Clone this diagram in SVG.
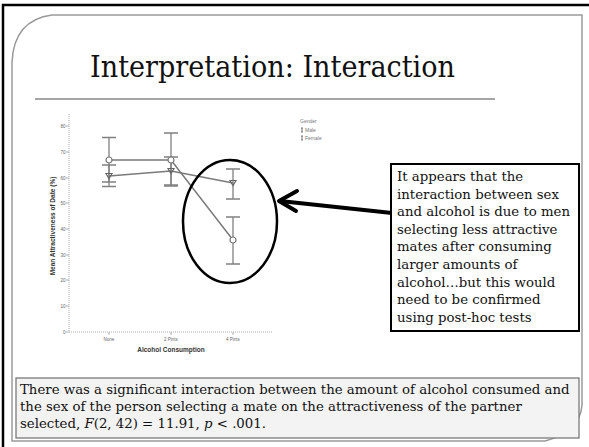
<svg xmlns="http://www.w3.org/2000/svg" width="589" height="447" viewBox="0 0 589 447">
<style>
.frame{fill:none;stroke:#9a9a9a;stroke-width:1.5}
.ser{font-family:"DejaVu Serif","Liberation Serif",serif;fill:#111}
.tick{font-family:"Liberation Sans",Arial,sans-serif;font-size:4.5px;fill:#666}
.axl{font-family:"Liberation Sans",Arial,sans-serif;font-size:6.5px;font-weight:bold;fill:#333}
.dl{fill:none;stroke:#7a7a7a;stroke-width:1.5}
.eb{fill:none;stroke:#808080;stroke-width:1.3}
.ax{fill:none;stroke:#aaa;stroke-width:1;stroke-dasharray:1 1}
</style>
<defs>
<path id="tri" d="M-3,-2.5 L3,-2.5 L0,2.5 Z" fill="none" stroke="#666" stroke-width="1.2"/>
<circle id="cir" r="3" fill="#fff" stroke="#777" stroke-width="1.2"/>
</defs>
<rect width="589" height="447" fill="#fff"/>
<path d="M3,447 L3,5 L589,5" fill="none" stroke="#000" stroke-width="2.5"/>
<path class="frame" d="M52,15 L582,15 L582,405 Q580,432 545,441 L12,441 L12,62 Q14,20 52,15 Z"/>
<g id="title">
<text class="ser" x="272.5" y="77" font-size="29" text-anchor="middle" textLength="365" lengthAdjust="spacingAndGlyphs">Interpretation: Interaction</text>
<line x1="35" y1="99" x2="495" y2="99" stroke="#888" stroke-width="1.5"/>
</g>
<g id="chart">
<line class="ax" x1="69" y1="114" x2="69" y2="332"/>
<line class="ax" x1="69" y1="332" x2="273" y2="332"/>
<g stroke="#999" stroke-width="0.8">
<line x1="66" y1="126" x2="69" y2="126"/><line x1="66" y1="152" x2="69" y2="152"/>
<line x1="66" y1="178" x2="69" y2="178"/><line x1="66" y1="203" x2="69" y2="203"/>
<line x1="66" y1="229" x2="69" y2="229"/><line x1="66" y1="255" x2="69" y2="255"/>
<line x1="66" y1="280" x2="69" y2="280"/><line x1="66" y1="306" x2="69" y2="306"/>
<line x1="66" y1="332" x2="69" y2="332"/>
<line x1="109" y1="332" x2="109" y2="335"/><line x1="171" y1="332" x2="171" y2="335"/><line x1="233" y1="332" x2="233" y2="335"/>
</g>
<g class="tick" text-anchor="end">
<text x="65.5" y="127.5">80</text><text x="65.5" y="153.5">70</text><text x="65.5" y="179.5">60</text>
<text x="65.5" y="204.5">50</text><text x="65.5" y="230.5">40</text><text x="65.5" y="256.5">30</text>
<text x="65.5" y="281.5">20</text><text x="65.5" y="307.5">10</text><text x="65.5" y="333.5">0</text>
</g>
<g class="tick" text-anchor="middle">
<text x="109" y="341">None</text><text x="171" y="341">2 Pints</text><text x="233" y="341">4 Pints</text>
</g>
<text class="axl" x="171" y="352" text-anchor="middle">Alcohol Consumption</text>
<text class="axl" transform="translate(55,226) rotate(-90)" text-anchor="middle">Mean Attractiveness of Date (%)</text>
<g class="eb">
<path d="M109,137.5V182 M102,137.5H116 M102,182H116"/>
<path d="M109,165V186.5 M102,165H116 M102,186.5H116"/>
<path d="M171,133V186 M164,133H178 M164,186H178"/>
<path d="M171,157V185 M164,157H178 M164,185H178"/>
<path d="M233,169V199 M226,169H240 M226,199H240"/>
<path d="M233,217V264 M226,217H240 M226,264H240"/>
</g>
<polyline class="dl" points="109,160 171,160 233,240"/>
<polyline class="dl" points="109,176 171,171 233,183"/>
<use href="#cir" x="109" y="160"/><use href="#cir" x="171" y="160"/><use href="#cir" x="233" y="240"/>
<use href="#tri" x="109" y="176"/><use href="#tri" x="171" y="171"/><use href="#tri" x="233" y="183"/>
<g font-family="Liberation Sans,Arial,sans-serif" font-size="5" fill="#777">
<text x="300" y="123">Gender</text>
<text x="305" y="131.5">Male</text>
<text x="305" y="139.5">Female</text>
</g>
<path d="M302,128V132 M301,128H303 M301,132H303 M302,136V140 M301,136H303 M301,140H303" stroke="#666" stroke-width="0.9"/>
</g>
<g id="ellipse">
<ellipse cx="230" cy="221.5" rx="47" ry="61.5" fill="none" stroke="#000" stroke-width="2.5"/>
</g>
<g id="connectors">
<line x1="392" y1="213" x2="280" y2="201" stroke="#000" stroke-width="4"/>
<polyline points="297,191 279,201 296,211" fill="none" stroke="#000" stroke-width="4" stroke-linecap="round" stroke-linejoin="round"/>
</g>
<g id="note">
<rect x="391" y="164" width="188" height="167" fill="#fff" stroke="#000" stroke-width="2"/>
<g class="ser" font-size="13.3">
<text x="397" y="181">It appears that the</text>
<text x="397" y="198.6">interaction between sex</text>
<text x="397" y="216.2">and alcohol is due to men</text>
<text x="397" y="233.8">selecting less attractive</text>
<text x="397" y="251.4">mates after consuming</text>
<text x="397" y="269">larger amounts of</text>
<text x="397" y="286.6">alcohol…but this would</text>
<text x="397" y="304.2">need to be confirmed</text>
<text x="397" y="321.8">using post-hoc tests</text>
</g>
</g>
<g id="summary">
<rect x="16" y="378" width="563" height="60" fill="#f3f3f3" stroke="#7a7a7a" stroke-width="1.3"/>
<g class="ser" font-size="13.3">
<text x="20" y="394">There was a significant interaction between the amount of alcohol consumed and</text>
<text x="20" y="411">the sex of the person selecting a mate on the attractiveness of the partner</text>
<text x="20" y="428">selected, <tspan font-style="italic">F</tspan>(2, 42) = 11.91, <tspan font-style="italic">p</tspan> &lt; .001.</text>
</g>
</g>
</svg>
